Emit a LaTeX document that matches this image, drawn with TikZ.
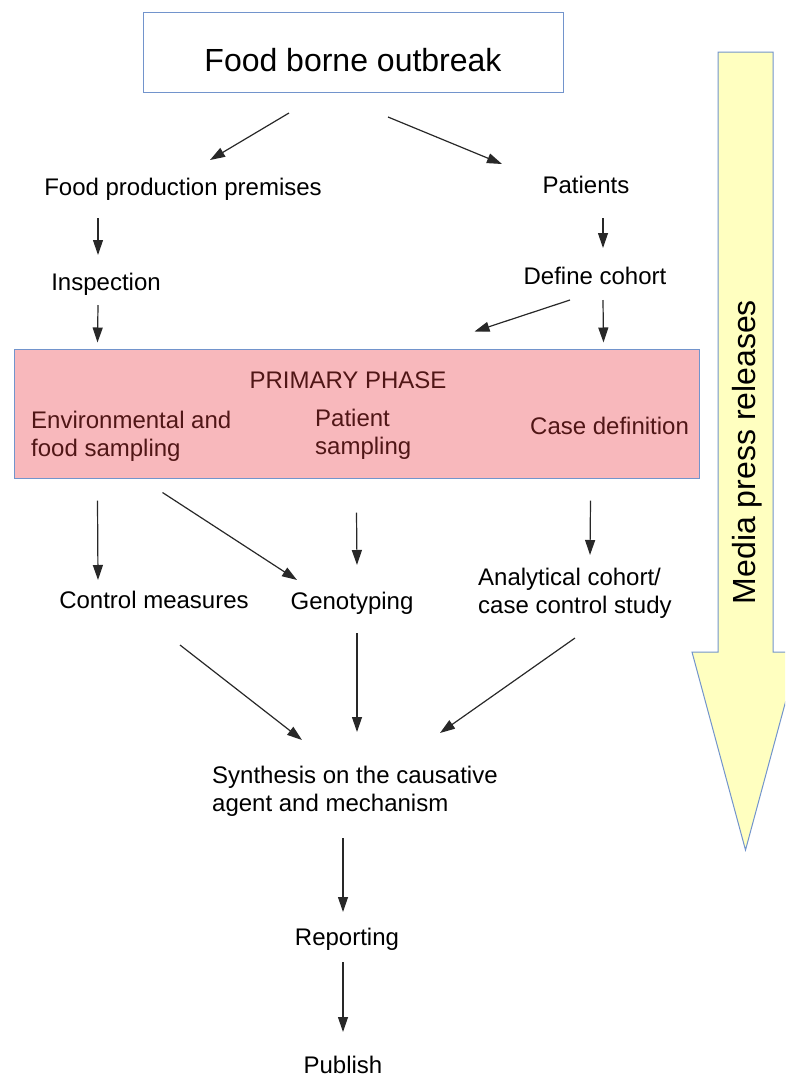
\documentclass[tikz,border=0pt]{standalone}
\usepackage{fontspec}
\setmainfont{Liberation Sans}
\usetikzlibrary{arrows.meta,calc}
\definecolor{boxblue}{RGB}{114,148,204}
\definecolor{phasepink}{RGB}{248,184,188}
\definecolor{phasetext}{RGB}{80,22,22}
\definecolor{medyellow}{RGB}{255,255,192}
\definecolor{arrgray}{RGB}{40,40,40}
\tikzset{
  lbl/.style={font=\fontsize{24}{28}\selectfont,inner sep=0pt},
  ptxt/.style={lbl,text=phasetext,align=left,anchor=west},
  arr/.style={draw=arrgray,line width=1.2pt,-{Triangle[length=15pt,width=10pt]}}
}
\begin{document}
\begin{tikzpicture}[x=1pt,y=-1pt]
    \useasboundingbox(0,0)rectangle(785,1077);
    \begin{scope}\clip(0,0)rectangle(785,1077);
    \draw[boxblue,line width=1pt,fill=medyellow](718,52)--(773,52)--(773,652)--(799,652)--(745.5,850)--(692,652)--(718,652)--cycle;
    \end{scope}
    \node[font=\fontsize{32}{36}\selectfont,rotate=90,inner sep=0pt](media) at (747,452){Media press releases};
    \node[draw=boxblue,line width=1pt,minimum width=420,minimum height=80](title) at (353,52){};
    \node[font=\fontsize{32}{36}\selectfont,inner sep=0pt](titletxt) at (353,60){Food borne outbreak};
    \node[lbl](fpp) at (183,189){Food production premises};
    \node[lbl](pat) at (586,185){Patients};
    \node[lbl](insp) at (106,284){Inspection};
    \node[lbl](coh) at (595,276){Define cohort};
    \node[draw=boxblue,line width=1pt,fill=phasepink,minimum width=685,minimum height=129,inner sep=0pt](phase) at (356.5,413.5){};
    \node[lbl,text=phasetext](prim) at (348,380){PRIMARY PHASE};
    \node[ptxt](env) at (31,436){Environmental and\\food sampling};
    \node[ptxt](psam) at (315,434){Patient\\sampling};
    \node[ptxt](cdef) at (530,426){Case definition};
    \node[lbl](ctrl) at (154,600){Control measures};
    \node[lbl](geno) at (352,603){Genotyping};
    \node[lbl,align=left,anchor=west](ana) at (478,593){Analytical cohort/\\case control study};
    \node[lbl,align=left,anchor=west](syn) at (212,791){Synthesis on the causative\\agent and mechanism};
    \node[lbl](rep) at (347,939){Reporting};
    \node[lbl](pub) at (343,1065){Publish};
    \draw[arr]([shift={(-64,61)}]title.center)--([shift={(27,-29)}]fpp.center);
    \draw[arr]([shift={(35,65)}]title.center)--([shift={(-84,-21)}]pat.center);
    \draw[arr]([shift={(-85,29)}]fpp.center)--([shift={(-8,-29)}]insp.center);
    \draw[arr]([shift={(17,33)}]pat.center)--([shift={(8,-28)}]coh.center);
    \draw[arr]([shift={(-8,21)}]insp.center)--([shift={(84,-6)}]phase.north west);
    \draw[arr]([shift={(8,24)}]coh.center)--([shift={(-96,-6)}]phase.north east);
    \draw[arr]([shift={(-25,24)}]coh.center)--([shift={(-225,-17)}]phase.north east);
    \draw[arr]([shift={(84,22)}]phase.south west)--([shift={(-56,-20)}]ctrl.center);
    \draw[arr]([shift={(149,14)}]phase.south west)--([shift={(-55,-23)}]geno.center);
    \draw[arr]([shift={(343,34)}]phase.south west)--([shift={(5,-38)}]geno.center);
    \draw[arr]([shift={(-109,22)}]phase.south east)--([shift={(112,-38)}]ana.west);
    \draw[arr]([shift={(26,45)}]ctrl.center)--([shift={(90,-51)}]syn.west);
    \draw[arr]([shift={(5,30)}]geno.center)--([shift={(145,-59)}]syn.west);
    \draw[arr]([shift={(97,45)}]ana.west)--([shift={(228,-58)}]syn.west);
    \draw[arr]([shift={(131,47)}]syn.west)--([shift={(-4,-27)}]rep.center);
    \draw[arr]([shift={(-4,23)}]rep.center)--([shift={(0,-33)}]pub.center);
\end{tikzpicture}
\end{document}
